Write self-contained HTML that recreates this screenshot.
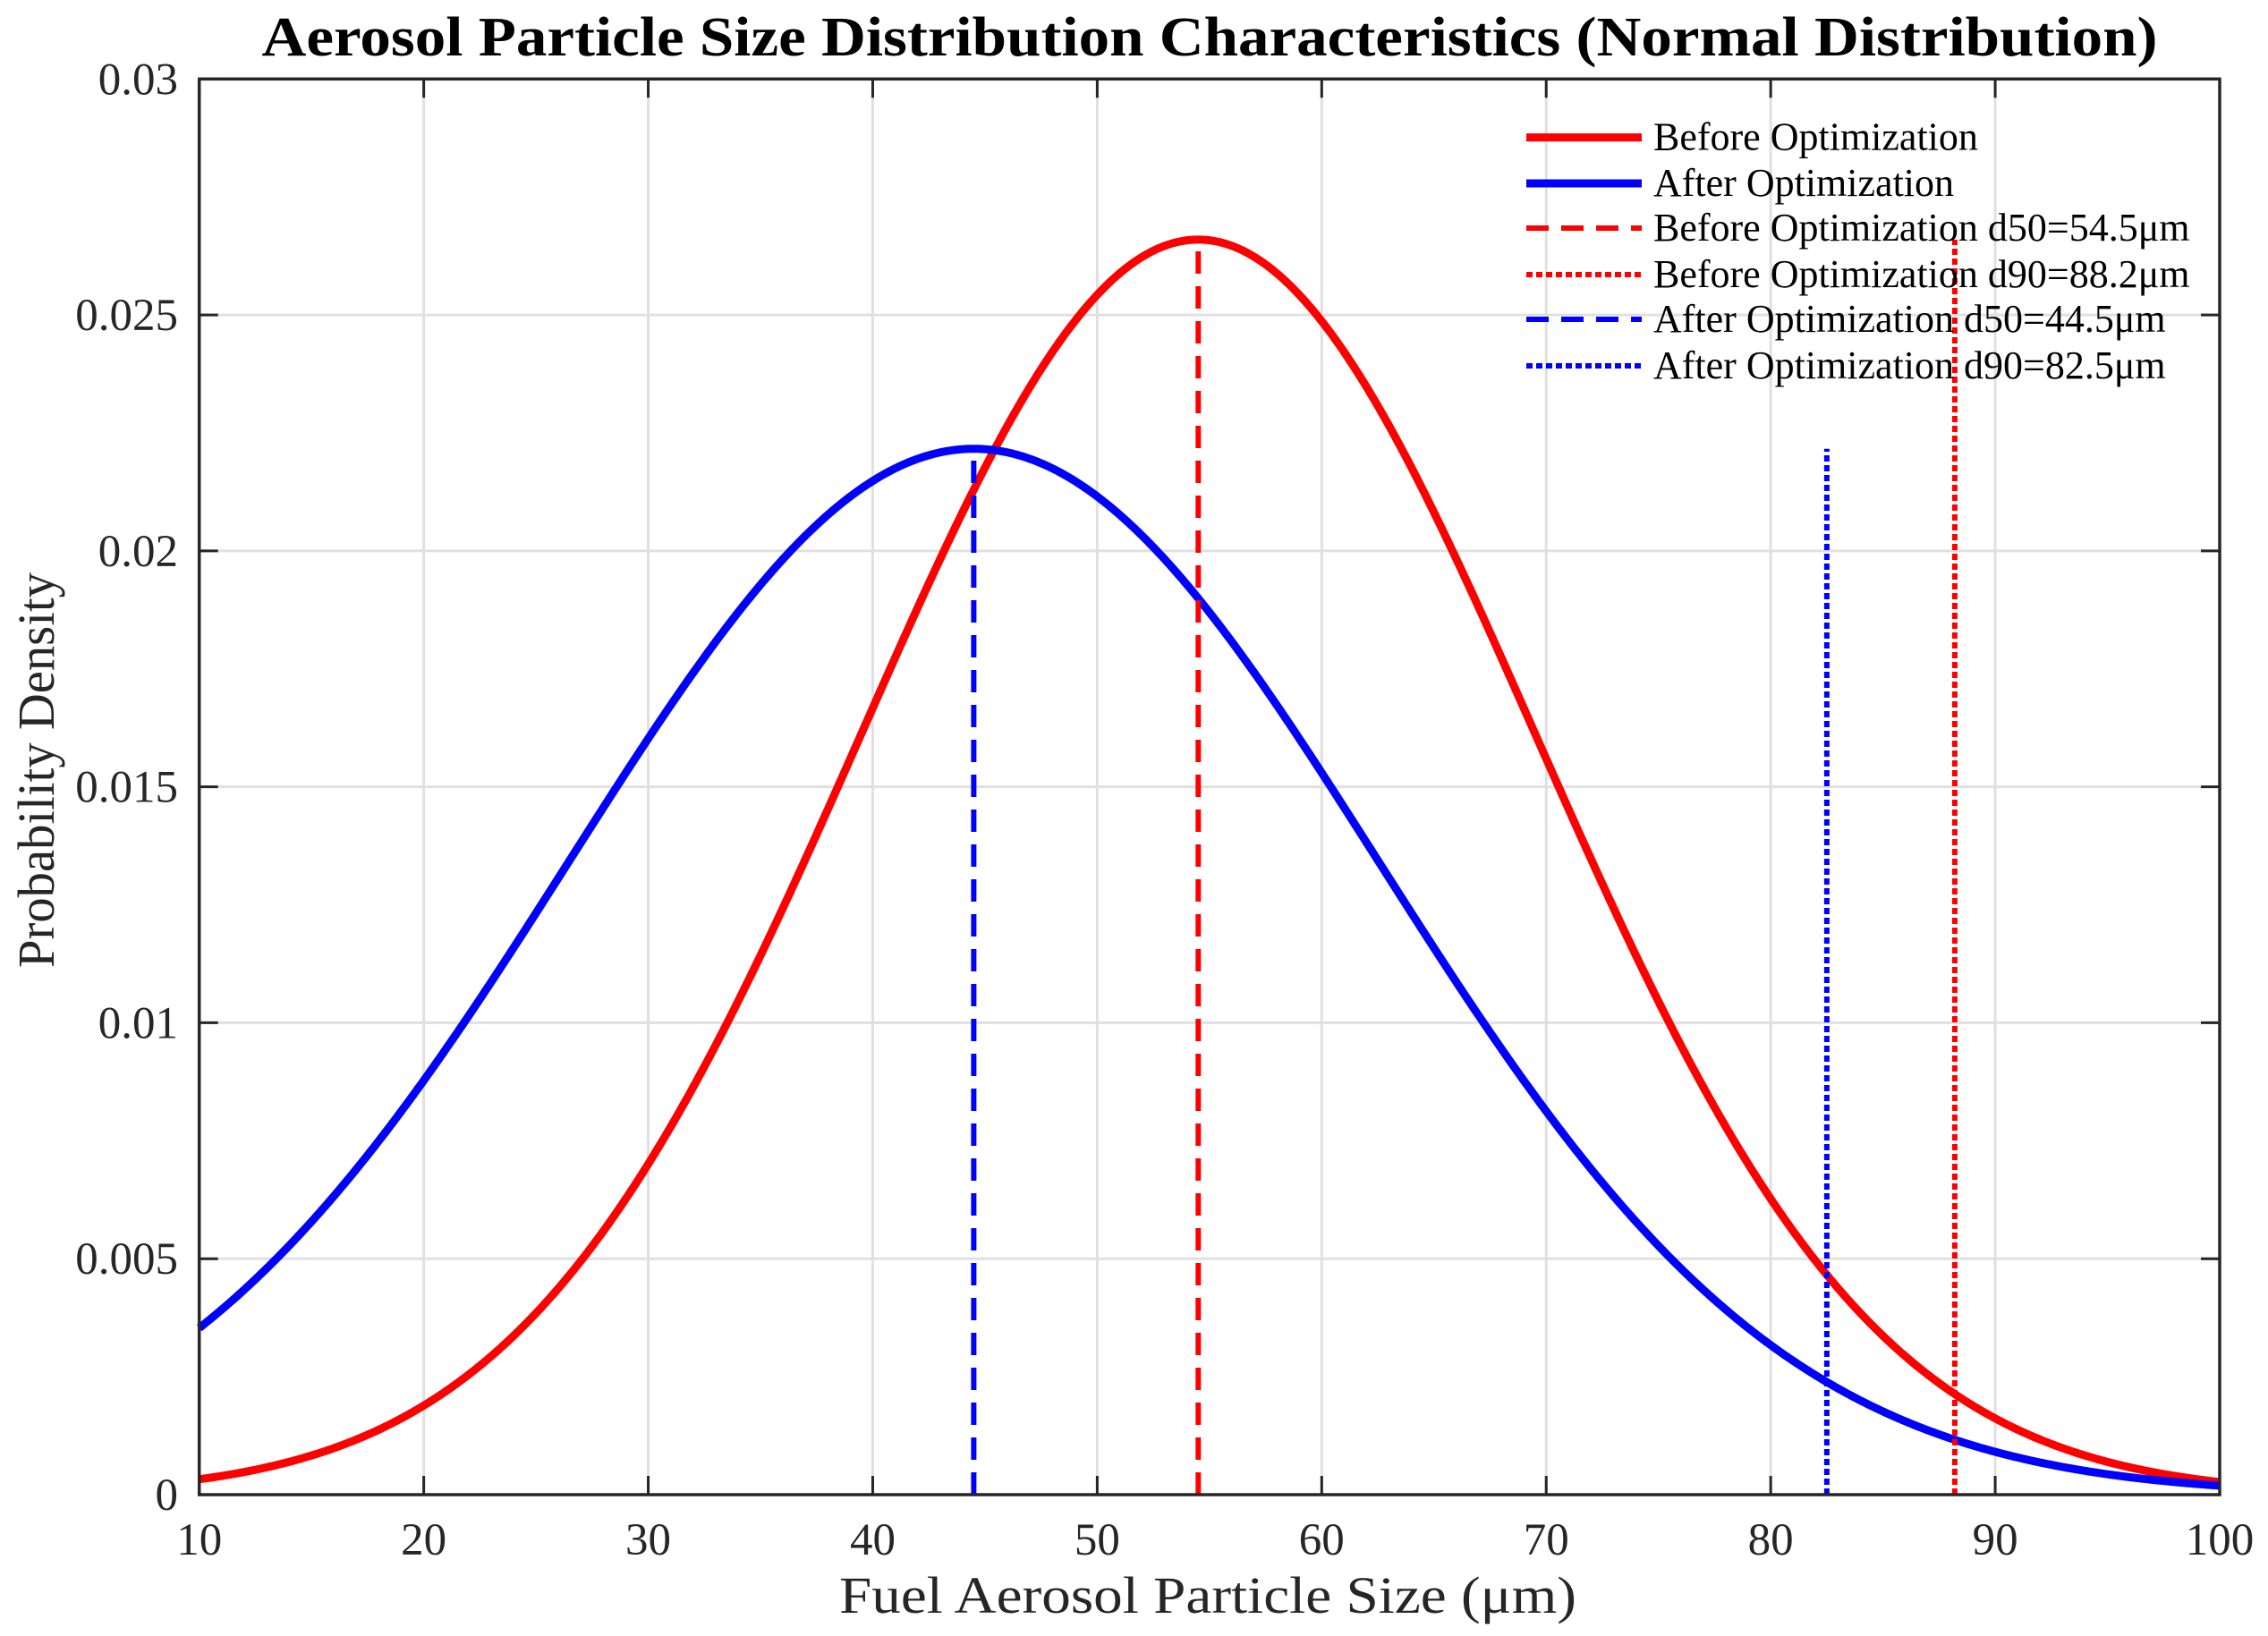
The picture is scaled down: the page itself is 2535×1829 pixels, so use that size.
<!DOCTYPE html>
<html><head><meta charset="utf-8"><style>
html,body{margin:0;padding:0;background:#fff;}
svg{display:block;font-family:"Liberation Serif",serif;}
</style></head><body>
<svg id="chart" width="2535" height="1829" viewBox="0 0 2535 1829" xmlns="http://www.w3.org/2000/svg">
<rect x="0" y="0" width="2535" height="1829" fill="#fff"/>
<g id="grid"></g>
<g id="series"></g>
<g id="axes"></g>
<g id="legend"></g>
<text x="1352" y="62" text-anchor="middle" font-size="62" font-weight="bold" textLength="2119" lengthAdjust="spacingAndGlyphs">Aerosol Particle Size Distribution Characteristics (Normal Distribution)</text>
<text x="1350" y="1803" text-anchor="middle" font-size="58" fill="#262626" textLength="824" lengthAdjust="spacingAndGlyphs">Fuel Aerosol Particle Size (μm)</text>
<text transform="translate(60,861) rotate(-90)" text-anchor="middle" font-size="58" fill="#262626" textLength="442" lengthAdjust="spacingAndGlyphs">Probability Density</text>
</svg>
<script>
const seriesNames = ["Before Optimization", "After Optimization"];
const seriesMeans = [54.5, 44.5];
const seriesSigmas = [15.0, 18.0];
const d50Values = [54.5, 44.5];
const d90Values = [88.2, 82.5];
const xTicks = [10,20,30,40,50,60,70,80,90,100];
const yTicks = [0,0.005,0.01,0.015,0.02,0.025,0.03];
const yTickLabels = ["0","0.005","0.01","0.015","0.02","0.025","0.03"];
const legendLabels = ["Before Optimization","After Optimization","Before Optimization d50=54.5μm","Before Optimization d90=88.2μm","After Optimization d50=44.5μm","After Optimization d90=82.5μm"];

const NS="http://www.w3.org/2000/svg";
const L=222.7,R=2481,T=88.3,B=1671;
const xmin=10,xmax=100,ymin=0,ymax=0.03;
const sx=v=>L+(v-xmin)/(xmax-xmin)*(R-L);
const sy=v=>B-(v-ymin)/(ymax-ymin)*(B-T);
const colors=["#ff0000","#0000ff"];
function mk(tag,attrs,parent){const e=document.createElementNS(NS,tag);for(const k in attrs)e.setAttribute(k,attrs[k]);parent.appendChild(e);return e;}
const grid=document.getElementById('grid'),ser=document.getElementById('series'),axes=document.getElementById('axes'),leg=document.getElementById('legend');
function pdf(x,m,s){return Math.exp(-0.5*((x-m)/s)**2)/(s*Math.sqrt(2*Math.PI));}

xTicks.forEach((t,i)=>{
  if(t>xmin&&t<xmax){const g=mk('line',{x1:sx(t),x2:sx(t),y1:T,y2:B,stroke:'#e0e0e0','stroke-width':3},grid);
  
  }
  const a=mk('line',{x1:sx(t),x2:sx(t),y1:B,y2:B-21,stroke:'#262626','stroke-width':3},axes);
  
  
  const b=mk('line',{x1:sx(t),x2:sx(t),y1:T,y2:T+21,stroke:'#262626','stroke-width':3},axes);
  
  
  const tx=mk('text',{x:sx(t),y:1738,'text-anchor':'middle','font-size':51,fill:'#262626'},axes);
  tx.textContent=String(t);
  
  
});
yTicks.forEach((t,i)=>{
  if(t>ymin&&t<ymax){const g=mk('line',{x1:L,x2:R,y1:sy(t),y2:sy(t),stroke:'#e0e0e0','stroke-width':3},grid);
  
  }
  const a=mk('line',{x1:L,x2:L+21,y1:sy(t),y2:sy(t),stroke:'#262626','stroke-width':3},axes);
  
  
  const b=mk('line',{x1:R,x2:R-21,y1:sy(t),y2:sy(t),stroke:'#262626','stroke-width':3},axes);
  
  
  const tx=mk('text',{x:199,y:sy(t)+17,'text-anchor':'end','font-size':51,fill:'#262626'},axes);
  tx.textContent=yTickLabels[i];
  
  
});
const box=mk('rect',{x:L,y:T,width:R-L,height:B-T,fill:'none',stroke:'#262626','stroke-width':3.5},axes);



seriesMeans.forEach((m,i)=>{
  let d='';
  for(let k=0;k<=900;k++){const x=xmin+k*(xmax-xmin)/900;d+=(k?'L':'M')+sx(x).toFixed(2)+' '+sy(pdf(x,m,seriesSigmas[i])).toFixed(2);}
  const p=mk('path',{d:d,fill:'none',stroke:colors[i],'stroke-width':9,'stroke-linejoin':'round'},ser);
  
  
});
seriesMeans.forEach((m,i)=>{
  const peak=pdf(m,m,seriesSigmas[i]);
  const a=mk('line',{x1:sx(d50Values[i]),x2:sx(d50Values[i]),y1:B,y2:sy(peak),stroke:colors[i],'stroke-width':6,'stroke-dasharray':'25 14'},ser);
  
  
  const b=mk('line',{x1:sx(d90Values[i]),x2:sx(d90Values[i]),y1:B,y2:sy(peak),stroke:colors[i],'stroke-width':6,'stroke-dasharray':'7 4'},ser);
  
  
});
const rowsY=[153.6,205,255,307,357,409];
const styles=[[colors[0],9,''],[colors[1],9,''],[colors[0],6,'25 14'],[colors[0],6,'7 4'],[colors[1],6,'25 14'],[colors[1],6,'7 4']];
legendLabels.forEach((lab,i)=>{
  const g=mk('g',{},leg);
  
  
  const ln=mk('line',{x1:1706,x2:1835,y1:rowsY[i],y2:rowsY[i],stroke:styles[i][0],'stroke-width':styles[i][1]},g);
  if(styles[i][2])ln.setAttribute('stroke-dasharray',styles[i][2]);
  
  
  const t=mk('text',{x:1848,y:rowsY[i]+14,'font-size':44,fill:'#000'},g);
  t.textContent=lab;
  
  
});
</script>
</body></html>
